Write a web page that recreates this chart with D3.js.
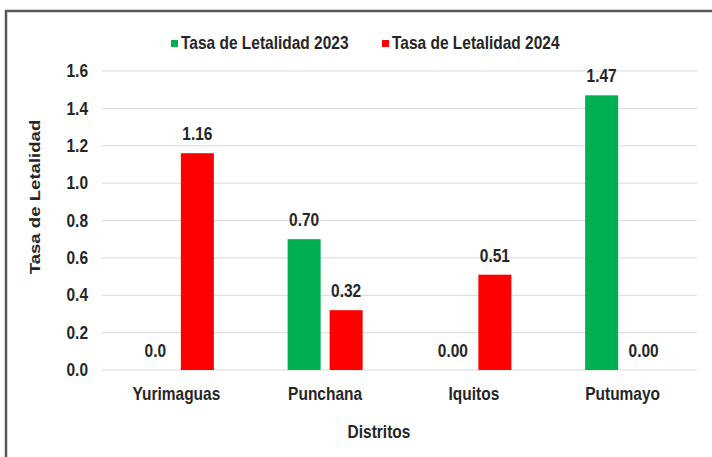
<!DOCTYPE html>
<html><head><meta charset="utf-8">
<script src="https://cdn.jsdelivr.net/npm/d3@7"></script>
<style>body{margin:0;background:#fff}svg text{font-family:"Liberation Sans",Arial,sans-serif;font-weight:bold;fill:#262626}</style>
</head><body>
<svg id="c" width="712" height="457"></svg>
<script>
const categories = ["Yurimaguas", "Punchana", "Iquitos", "Putumayo"];
const seriesNames = ["Tasa de Letalidad 2023", "Tasa de Letalidad 2024"];
const values2023 = [0.0, 0.70, 0.00, 1.47];
const values2024 = [1.16, 0.32, 0.51, 0.00];
const labels2023 = ["0.0", "0.70", "0.00", "1.47"];
const labels2024 = ["1.16", "0.32", "0.51", "0.00"];
const yTicks = [0, 0.2, 0.4, 0.6, 0.8, 1.0, 1.2, 1.4, 1.6];
const colors = ["#00b050", "#ff0000"];

const FS = 15.5, VS = 1.15;
const svg = d3.select("#c");
// frame
svg.append("path").attr("d", "M6,470 L6,11 L720,11").attr("fill", "none").attr("stroke", "#595959").attr("stroke-width", 2.5);

const m = {l: 102, r: 697, t: 71, b: 370};
const y = d3.scaleLinear().domain([0, 1.6]).range([m.b, m.t]);
const x0 = d3.scaleBand().domain(categories).range([m.l, m.r]).padding(0);
const x1 = d3.scaleBand().domain(seriesNames).range([0, x0.bandwidth()]).paddingInner(0.214).paddingOuter(0.878);

function label(px, py, txt, anchor, rot) {
  const g = svg.append("g").attr("transform", `translate(${px},${py})` + (rot ? " rotate(-90)" : ""));
  g.append("text").attr("transform", rot ? `scale(${VS + 0.05},1)` : `scale(1,${VS})`)
    .attr("text-anchor", anchor || "middle").attr("font-size", FS).text(txt);
}

// grid
svg.append("g").selectAll("line").data(yTicks).join("line")
  .attr("x1", m.l).attr("x2", m.r).attr("y1", d => y(d)).attr("y2", d => y(d))
  .attr("stroke", "#d9d9d9").attr("stroke-width", 1);

// y axis
const ya = svg.append("g").attr("transform", `translate(${m.l},0)`)
  .call(d3.axisLeft(y).tickValues(yTicks).tickFormat(d3.format(".1f")).tickSize(0).tickPadding(14));
ya.select(".domain").remove();
ya.selectAll("text").attr("font-size", FS).attr("transform", `scale(1,${VS})`)
  .style("font-family", "Liberation Sans, Arial").style("font-weight", "bold").attr("fill", "#262626");

// x axis labels
const xa = svg.append("g").attr("transform", `translate(0,${m.b})`)
  .call(d3.axisBottom(x0).tickSize(0).tickPadding(15));
xa.select(".domain").remove();
xa.selectAll("text").attr("font-size", FS).attr("transform", `scale(1,${VS})`)
  .style("font-family", "Liberation Sans, Arial").style("font-weight", "bold").attr("fill", "#262626");

const series = [
  {name: seriesNames[0], vals: values2023, labs: labels2023, color: colors[0]},
  {name: seriesNames[1], vals: values2024, labs: labels2024, color: colors[1]}
];
series.forEach(s => {
  const g = svg.append("g");
  g.selectAll("rect").data(categories).join("rect")
    .attr("x", (c) => x0(c) + x1(s.name))
    .attr("width", x1.bandwidth())
    .attr("y", (c, i) => y(s.vals[i]))
    .attr("height", (c, i) => y(0) - y(s.vals[i]))
    .attr("fill", s.color);
  categories.forEach((c, i) => {
    label(x0(c) + x1(s.name) + x1.bandwidth() / 2, y(s.vals[i]) - 13, s.labs[i], "middle");
  });
});

// legend
const leg = [{x: 171, i: 0}, {x: 382, i: 1}];
leg.forEach(l => {
  svg.append("rect").attr("x", l.x).attr("y", 40).attr("width", 7).attr("height", 7).attr("fill", colors[l.i]);
  label(l.x + 10, 49, seriesNames[l.i], "start");
});

// axis titles
label(40, 197, "Tasa de Letalidad", "middle", true);
label(379, 438, "Distritos", "middle");
</script>
</body></html>
